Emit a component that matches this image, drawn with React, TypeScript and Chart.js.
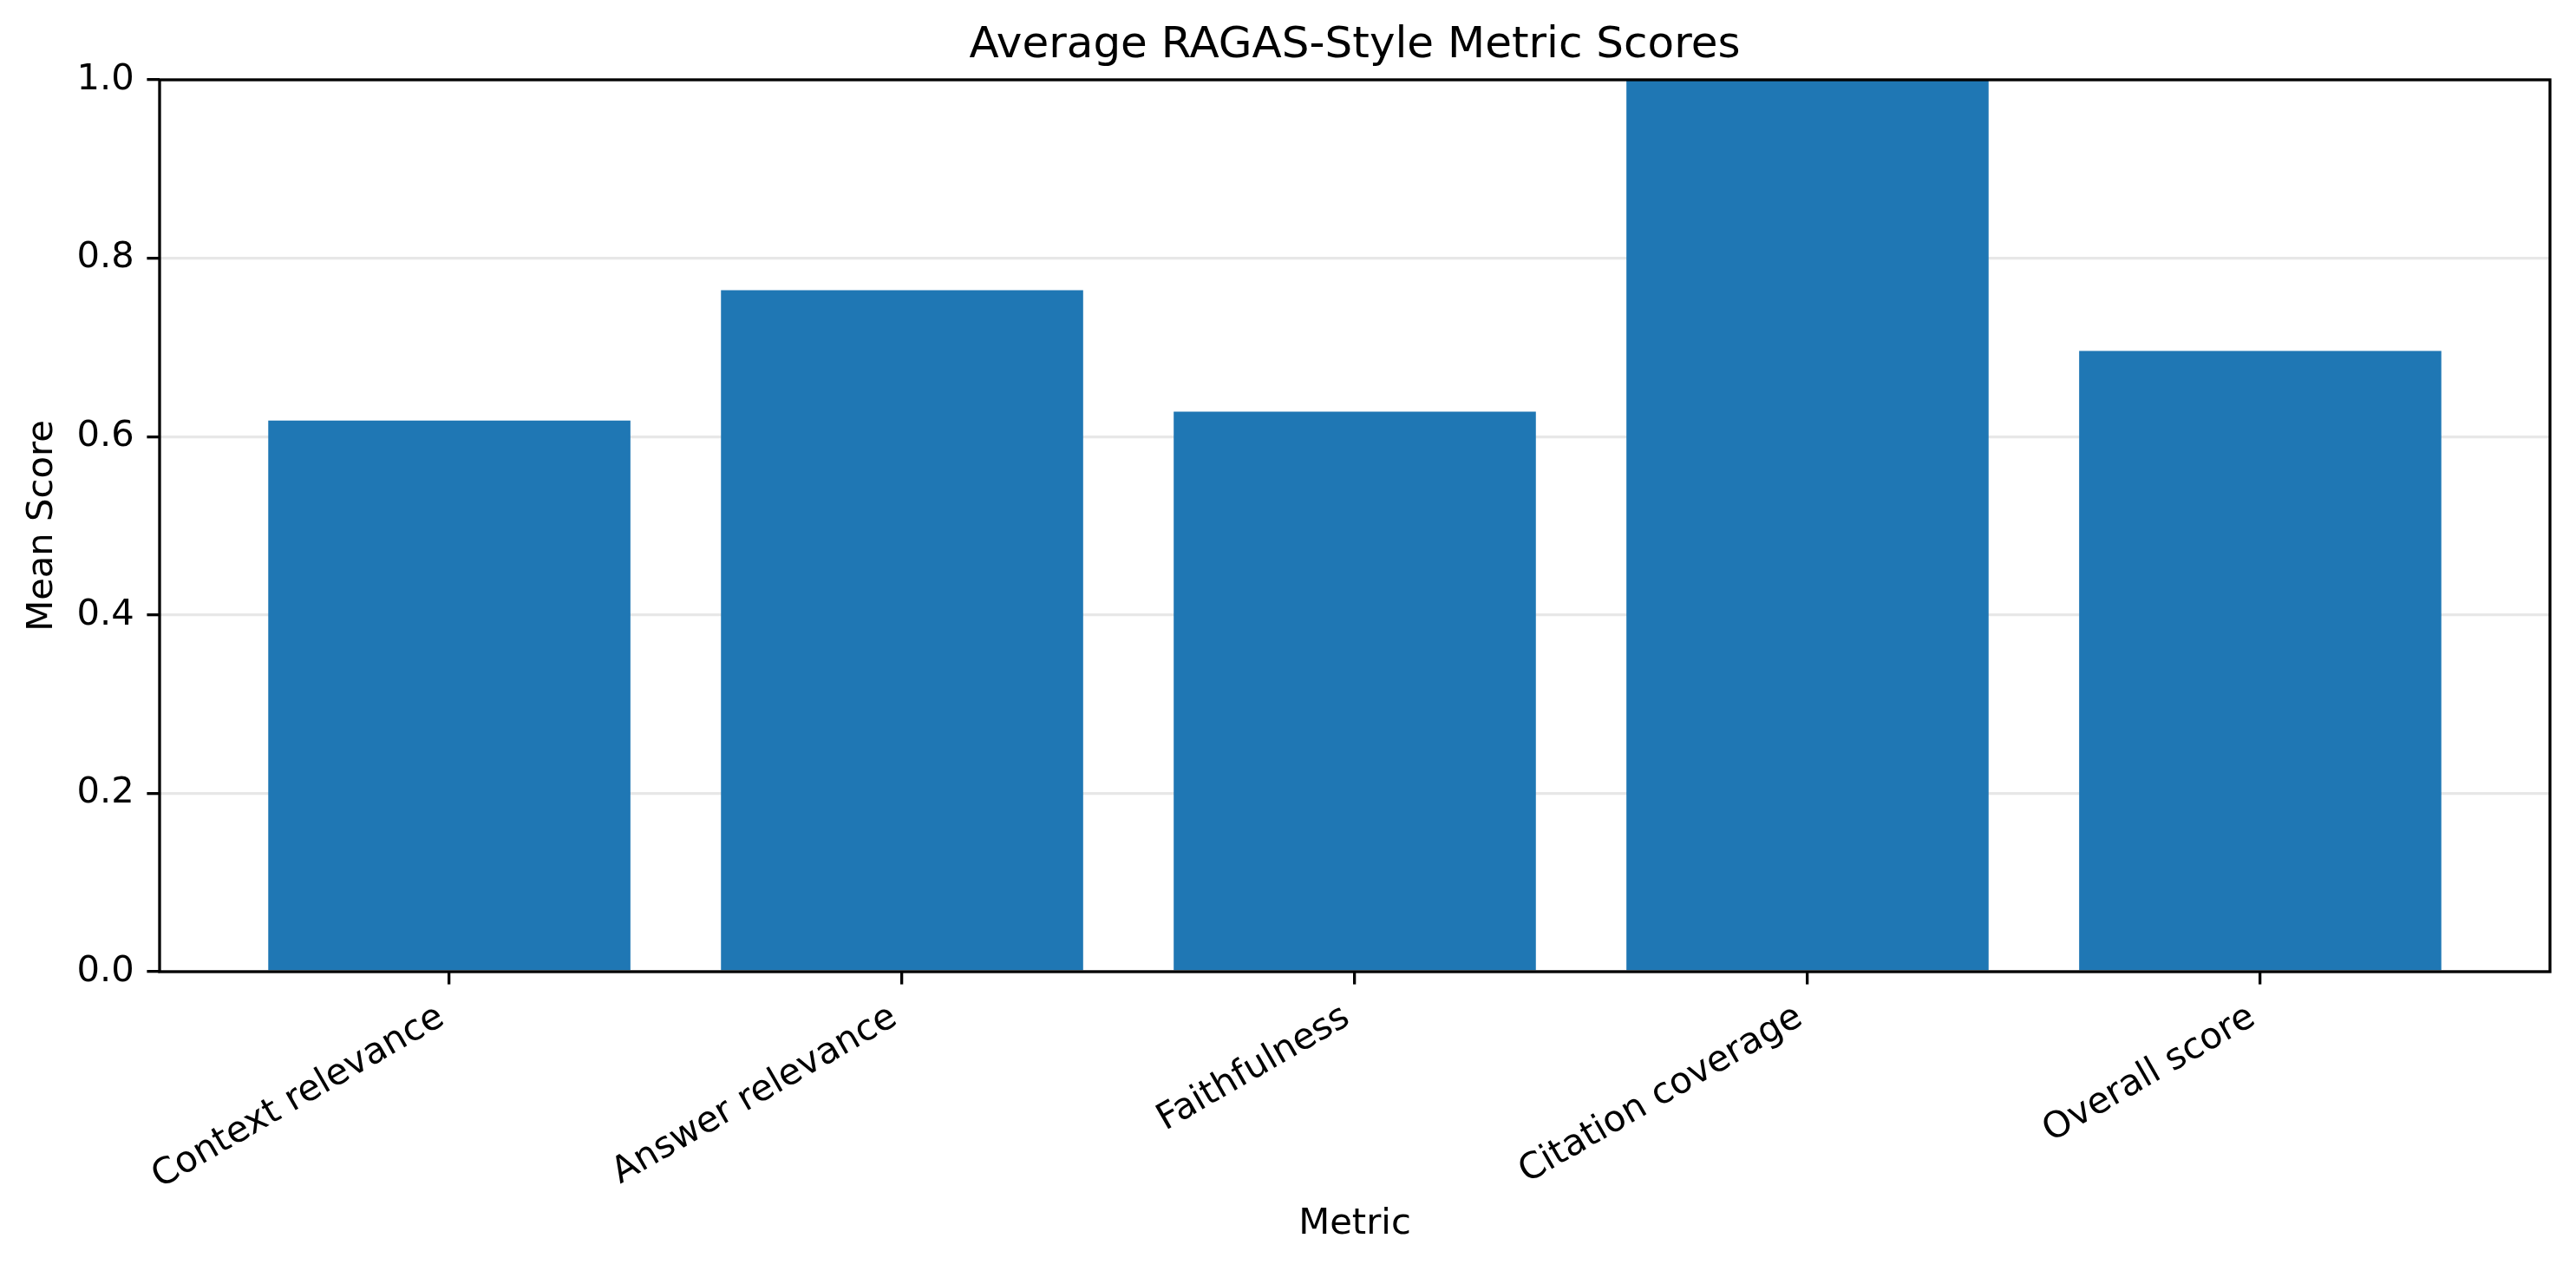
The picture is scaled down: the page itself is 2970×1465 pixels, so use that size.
import React, { useEffect, useRef } from "react";
import { Chart, registerables } from "chart.js";

Chart.register(...registerables);

const categories = [
  "Context relevance",
  "Answer relevance",
  "Faithfulness",
  "Citation coverage",
  "Overall score",
];
const meanScores = [0.618, 0.764, 0.628, 1.0, 0.696];
const yTickValues = [0, 0.2, 0.4, 0.6, 0.8, 1.0];
const titleText = "Average RAGAS-Style Metric Scores";
const xAxisLabel = "Metric";
const yAxisLabel = "Mean Score";

const W = 2970;
const H = 1465;
const FONT = "'DejaVu Sans', sans-serif";
const LW = 3.3;

const framePlugin = {
  id: "frame",
  afterDraw(chart: any) {
    const { ctx, chartArea: a } = chart;
    ctx.save();
    ctx.strokeStyle = "#000";
    ctx.lineWidth = LW;
    ctx.strokeRect(a.left, a.top, a.right - a.left, a.bottom - a.top);
    ctx.restore();
  },
};

export default function App() {
  const ref = useRef<HTMLCanvasElement | null>(null);

  useEffect(() => {
    document.body.style.margin = "0";
    const canvas = ref.current;
    if (!canvas) return;
    Chart.defaults.color = "#000";
    Chart.defaults.font.family = FONT;

    const chart = new Chart(canvas, {
      type: "bar",
      data: {
        datasets: [
          {
            label: yAxisLabel,
            data: meanScores.map((v, i) => ({ x: i, y: v })),
            backgroundColor: "#1f77b4",
            borderWidth: 0,
            categoryPercentage: 1,
            barPercentage: 0.8,
          },
        ],
      },
      options: {
        animation: false,
        responsive: false,
        devicePixelRatio: 1,
        layout: { padding: { top: 0, left: 0, right: 30, bottom: 0 } },
        plugins: {
          legend: { display: false },
          tooltip: { enabled: false },
          title: {
            display: true,
            text: titleText,
            fullSize: false,
            color: "#000",
            font: { size: 50, family: FONT, weight: "normal", lineHeight: 1.2 },
            padding: { top: 23, bottom: 9 },
          },
        },
        scales: {
          x: {
            type: "linear",
            min: -0.64,
            max: 4.64,
            offset: false,
            afterBuildTicks: (scale: any) => {
              scale.ticks = categories.map((_, i) => ({ value: i }));
            },
            afterFit: (scale: any) => {
              scale.height = 345;
            },
            grid: {
              display: true,
              offset: false,
              drawOnChartArea: false,
              drawTicks: true,
              tickLength: 14.6,
              tickColor: "#000",
              tickWidth: LW,
              lineWidth: LW,
            },
            border: { display: false },
            ticks: {
              autoSkip: false,
              minRotation: 30,
              maxRotation: 30,
              padding: 13.6,
              labelOffset: -9,
              color: "#000",
              font: { size: 41.7, family: FONT },
              callback: (v: any) => categories[Math.round(Number(v))] ?? "",
            },
            title: {
              display: true,
              text: xAxisLabel,
              color: "#000",
              font: { size: 41.7, family: FONT, lineHeight: 1.2 },
              padding: { top: 0, bottom: 29 },
            },
          },
          y: {
            type: "linear",
            min: 0,
            max: 1,
            z: 1,
            afterBuildTicks: (scale: any) => {
              scale.ticks = yTickValues.map((v) => ({ value: v }));
            },
            afterFit: (scale: any) => {
              scale.width = 184;
            },
            grid: {
              display: true,
              drawOnChartArea: true,
              drawTicks: true,
              color: "rgba(176,176,176,0.3)",
              lineWidth: LW,
              tickLength: 14.6,
              tickColor: "#000",
              tickWidth: LW,
            },
            border: { display: false },
            ticks: {
              padding: 14.6,
              color: "#000",
              font: { size: 41.7, family: FONT },
              callback: (v: any) => Number(v).toFixed(1),
            },
            title: {
              display: true,
              text: yAxisLabel,
              color: "#000",
              font: { size: 41.7, family: FONT, lineHeight: 1.2 },
              padding: { top: 24, bottom: 0 },
            },
          },
        },
      },
      plugins: [framePlugin],
    } as any);

    return () => chart.destroy();
  }, []);

  return (
    <div style={{ width: W, height: H, background: "#fff" }}>
      <canvas ref={ref} width={W} height={H} style={{ display: "block" }} />
    </div>
  );
}
